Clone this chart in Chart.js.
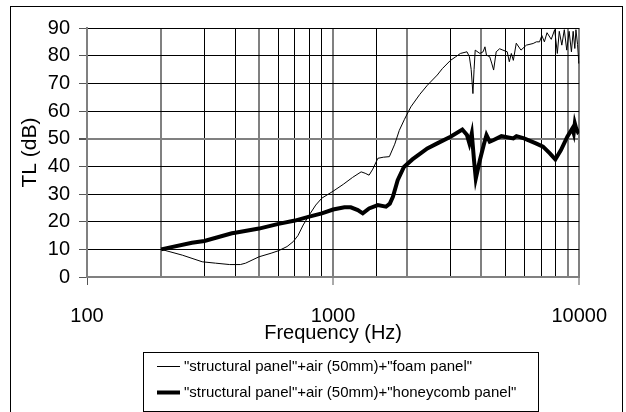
<!DOCTYPE html>
<html>
<head>
<meta charset="utf-8">
<script src="https://cdn.jsdelivr.net/npm/chart.js@4/dist/chart.umd.min.js"></script>
<style>
  html, body { margin: 0; padding: 0; background: #fff; }
  #wrap { width: 626px; height: 412px; }
</style>
</head>
<body>
<div id="wrap"><canvas id="tlChart" width="626" height="412"></canvas></div>
<script>
// Transmission loss vs frequency for two panel build-ups
const foamFreq = [200, 244, 294, 333, 380, 420, 441, 500, 560, 600, 650, 689, 720, 756, 800, 850, 900, 1000, 1100, 1200,
  1300, 1350, 1400, 1450, 1520, 1600, 1693, 1780, 1858, 1950, 2070, 2250, 2415, 2650, 2778, 3000, 3150, 3290, 3500, 3580,
  3640, 3700, 3740, 3780, 3950, 4070, 4140, 4200, 4330, 4420, 4490, 4600, 4750, 4900, 5100, 5200, 5300, 5400, 5550, 5800,
  6100, 6500, 6700, 6900, 7050, 7220, 7400, 7700, 7950, 8150, 8300, 8500, 8700, 8900, 9100, 9300, 9450, 9600, 9700, 9850,
  9970, 10000];
const foamTL = [10, 7.9, 5.5, 5.0, 4.5, 4.5, 5.0, 7.3, 8.6, 9.5, 11, 12.8, 15, 18.8, 22.4, 26, 28.5, 31, 33.5, 36,
  38, 37.5, 36.8, 39, 42.9, 43.3, 43.5, 48, 53, 57, 61.5, 66, 69.3, 73, 75.3, 78.3, 79.6, 80.8, 81.4, 79.6,
  75, 66.3, 75, 82, 80.8, 81.4, 83.2, 80.2, 79.6, 77, 74.8, 81.4, 82.5, 82, 81.4, 77.8, 80.8, 78.3, 84.5, 82,
  83.8, 84.4, 85, 85, 87.3, 85, 88.3, 85.9, 89.4, 80.8, 88.8, 83.8, 89.4, 82, 88.8, 81.4, 88.8, 82.6, 89.4, 84,
  77.2, 78];

const honeyFreq = [200, 267, 300, 388, 400, 500, 600, 700, 800, 900, 1000, 1112, 1180, 1260, 1320, 1400, 1520, 1640, 1700, 1750,
  1830, 1940, 2100, 2415, 2650, 3000, 3350, 3500, 3580, 3660, 3740, 3800, 3950, 4100, 4200, 4330, 4490, 4830, 5400, 5560,
  5970, 6670, 7130, 7600, 8000, 8430, 8950, 9380, 9500, 9600, 9700, 9870, 10000];
const honeyTL = [10, 12.4, 13, 15.8, 16, 17.5, 19.2, 20.4, 21.8, 23, 24.4, 25.2, 25.2, 24.2, 23, 24.8, 26, 25.4, 26.5, 29,
  35, 39.8, 42.5, 46.5, 48.3, 50.7, 53.3, 51.3, 48.3, 51.9, 42, 35.6, 42.3, 48, 51.3, 48.9, 49.5, 50.9, 50.1, 50.9,
  50.1, 48.3, 47.1, 44.7, 42.5, 45.9, 50.7, 53.7, 52, 55.5, 54, 52.5, 53];

const seriesLabels = [
  '"structural panel"+air (50mm)+"foam panel"',
  '"structural panel"+air (50mm)+"honeycomb panel"'
];

const FONT = '"Liberation Sans", Arial, sans-serif';
// grid lines that come out as soft grey double-pixel lines
const greyX = [200, 500, 1000, 2000, 4000, 9000, 10000];

function toPoints(xs, ys) {
  return xs.map((x, i) => ({ x: x, y: ys[i] }));
}

// outer frame + boxed legend underneath the plot
const framePlugin = {
  id: 'framePlugin',
  afterDraw(chart) {
    const ctx = chart.ctx;
    ctx.save();
    ctx.strokeStyle = '#000';
    ctx.lineWidth = 1;
    ctx.strokeRect(10.5, 6.5, 612, 412);

    ctx.strokeRect(143.5, 352.5, 395, 59);
    const rows = [366, 392];
    chart.data.datasets.forEach((ds, i) => {
      ctx.beginPath();
      ctx.lineWidth = ds.borderWidth;
      ctx.strokeStyle = ds.borderColor;
      ctx.moveTo(157, rows[i] + 0.5);
      ctx.lineTo(180, rows[i] + 0.5);
      ctx.stroke();
      ctx.fillStyle = '#000';
      ctx.font = '15px ' + FONT;
      ctx.textBaseline = 'middle';
      ctx.textAlign = 'left';
      ctx.fillText(ds.label, 184, rows[i] + 1);
    });
    ctx.restore();
  }
};

new Chart(document.getElementById('tlChart'), {
  type: 'line',
  data: {
    datasets: [{
      label: seriesLabels[0],
      data: toPoints(foamFreq, foamTL),
      borderColor: '#000',
      borderWidth: 1,
      pointRadius: 0,
      tension: 0,
      fill: false
    }, {
      label: seriesLabels[1],
      data: toPoints(honeyFreq, honeyTL),
      borderColor: '#000',
      borderWidth: 4,
      pointRadius: 0,
      tension: 0,
      fill: false
    }]
  },
  options: {
    responsive: false,
    animation: false,
    events: [],
    layout: { padding: { left: 18, right: 43, top: 28, bottom: 67 } },
    plugins: {
      legend: { display: false },
      tooltip: { enabled: false }
    },
    scales: {
      x: {
        type: 'logarithmic',
        min: 100,
        max: 10000,
        afterFit(scale) { scale.height = 68; },
        border: { display: true, color: '#808080', width: 2 },
        grid: {
          color: ctx => greyX.includes(ctx.tick.value) ? '#808080' : '#000',
          lineWidth: ctx => greyX.includes(ctx.tick.value) ? 2 : 1,
          tickLength: 8,
          tickColor: ctx => [100, 1000, 10000].includes(ctx.tick.value) ? '#555' : 'rgba(0,0,0,0)',
          tickWidth: 1
        },
        ticks: {
          autoSkip: false,
          maxRotation: 0,
          padding: 19,
          color: '#000',
          font: { family: FONT, size: 20 },
          callback: v => [100, 1000, 10000].includes(v) ? String(v) : ''
        },
        title: {
          display: true,
          text: 'Frequency (Hz)',
          color: '#000',
          font: { family: FONT, size: 20 },
          padding: { top: 0, bottom: 0 }
        }
      },
      y: {
        min: 0,
        max: 90,
        afterFit(scale) { scale.width = 69; },
        border: { display: true, color: '#808080', width: 2 },
        grid: {
          color: ctx => ctx.tick.value === 50 ? '#808080' : '#000',
          lineWidth: ctx => ctx.tick.value === 50 ? 2 : 1,
          tickLength: 8,
          tickColor: '#555'
        },
        ticks: {
          stepSize: 10,
          padding: 9,
          color: '#000',
          font: { family: FONT, size: 20 }
        },
        title: {
          display: true,
          text: 'TL (dB)',
          color: '#000',
          font: { family: FONT, size: 21 },
          padding: { top: 0, bottom: 0 }
        }
      }
    }
  },
  plugins: [framePlugin]
});
</script>
</body>
</html>
